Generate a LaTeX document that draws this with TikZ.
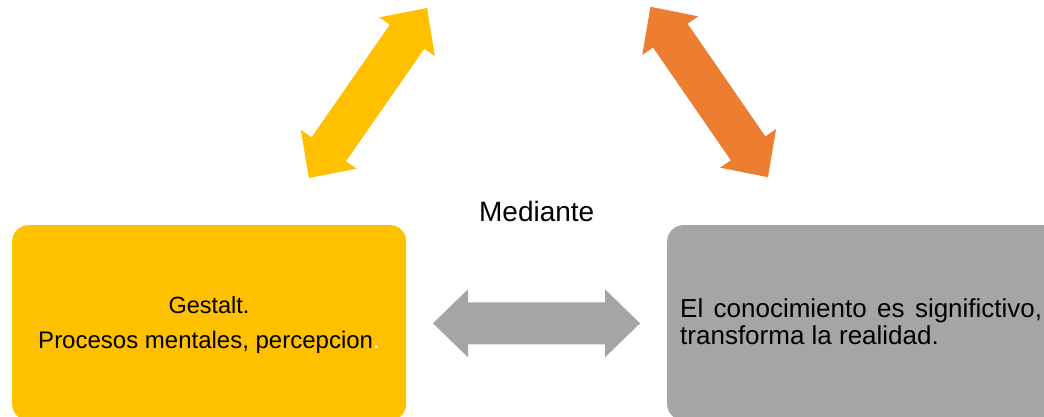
\documentclass[tikz,border=0pt]{standalone}
\usepackage{fontspec}
\setmainfont{Liberation Sans}
\definecolor{cyellow}{HTML}{FFC000}
\definecolor{corange}{HTML}{ED7D31}
\definecolor{cgray}{HTML}{A5A5A5}
\tikzset{
  boxshape/.style={draw=none, rounded corners=16pt, inner sep=0pt, anchor=north west},
  txt/.style={inner sep=0pt, text=black},
  blockarrow/.style={draw=none},
}
\newcommand{\dblarrowpath}{(-103.5,0) -- (-68.5,34) -- (-68.5,21) -- (68.5,21) -- (68.5,34) -- (103.5,0) -- (68.5,-34) -- (68.5,-21) -- (-68.5,-21) -- (-68.5,-34) -- cycle}
\begin{document}
\begin{tikzpicture}[x=1pt,y=-1pt]
\useasboundingbox (0,0) rectangle (1044,417);
\clip (0,0) rectangle (1044,417);
\fill[white] (0,0) rectangle (1044,417);
% boxes
\node[boxshape, fill=cyellow, minimum width=394pt, minimum height=195pt] (left) at (12,225) {};
\node[boxshape, fill=cgray, minimum width=420pt, minimum height=195pt] (right) at (667,225) {};
% texts
\node[txt, anchor=base, font=\fontsize{23.5}{28}\selectfont] (g1) at (209,313.3) {Gestalt.};
\node[txt, anchor=base, font=\fontsize{24}{28}\selectfont] (g2) at (209,348.3) {Procesos mentales, percepcion\textcolor{white}{.}};
\node[txt, anchor=base west, font=\fontsize{26}{28}\selectfont] (r1) at (680,317.7) {\makebox[362pt][s]{El conocimiento es significtivo,}};
\node[txt, anchor=base west, font=\fontsize{26}{28}\selectfont] (r2) at (680,344.3) {transforma la realidad.};
\node[txt, anchor=base, font=\fontsize{28}{32}\selectfont] (med) at (536.7,221.7) {Mediante};
% block arrows
\fill[blockarrow, cgray, shift={(536.5,323.3)}] \dblarrowpath;
\fill[blockarrow, cyellow, shift={(367.9,93)}, rotate=55.2] \dblarrowpath;
\fill[blockarrow, corange, shift={(709.2,92)}, rotate=-55.4] \dblarrowpath;
\end{tikzpicture}
\end{document}
